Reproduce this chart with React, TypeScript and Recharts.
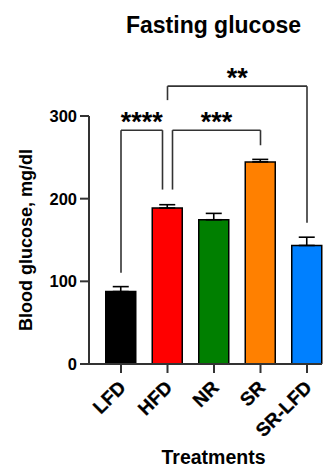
import React from 'react';
import { BarChart, Bar, XAxis, YAxis, ErrorBar, Cell, ReferenceLine, Label } from 'recharts';

const categories = ['LFD', 'HFD', 'NR', 'SR', 'SR-LFD'];
const means = [87.6, 188.7, 174.5, 244.5, 143.4];
const sems = [6, 4, 7.7, 3, 10];
const colors = ['#000000', '#FF0000', '#007F00', '#FF8000', '#0080FF'];
const yTicks = [0, 100, 200, 300];

// significance brackets: from/to categories, bar height y, leg ends, label
const bracketFrom = ['LFD', 'HFD', 'HFD'];
const bracketTo = ['HFD', 'SR', 'SR-LFD'];
const bracketY = [282.8, 282.8, 336.1];
const bracketFromEnd = [110.3, 211, 319.2];
const bracketToEnd = [211, 264.6, 170.9];
const bracketLabels = ['****', '***', '**'];
const bracketDxFrom = [0, 5, 0];
const bracketDxTo = [-5, 0, 0];

const data = categories.map((c, i) => ({ name: c, value: means[i], err: [0, sems[i]] }));

const FONT = '"Liberation Sans", Arial, sans-serif';
const AXIS = '#333333';

const XTick = (props: any) => {
  const { x, y, payload } = props;
  return (
    <g transform={`translate(${x + 1},${y})`}>
      <text
        transform="rotate(-45)"
        textAnchor="end"
        dy="0.36em"
        fontFamily={FONT}
        fontWeight="bold"
        fontSize={19}
        fill="#000"
        stroke="#000"
        strokeWidth={0.3}
      >
        {payload.value}
      </text>
    </g>
  );
};

const seg = (dx1: number, dx2: number, label?: string) => (p: any) => {
  const x1 = p.x1 + dx1;
  const x2 = p.x2 + dx2;
  return (
    <g>
      <line x1={x1} y1={p.y1} x2={x2} y2={p.y2} stroke={AXIS} strokeWidth={1.6} />
      {label ? (
        <text
          x={(x1 + x2) / 2}
          y={p.y1 + 1}
          textAnchor="middle"
          fontFamily={FONT}
          fontWeight="bold"
          fontSize={27}
          fill="#000"
        >
          {label}
        </text>
      ) : null}
    </g>
  );
};

export default function App() {
  return (
    <div style={{ position: 'absolute', left: 0, top: 0, width: 331, height: 468, background: '#fff' }}>
      <div
        style={{
          position: 'absolute',
          left: 0,
          top: 13.5,
          width: 427,
          textAlign: 'center',
          fontFamily: FONT,
          fontWeight: 'bold',
          fontSize: 23,
          lineHeight: '23px',
          color: '#000',
        }}
      >
        Fasting glucose
      </div>
      <BarChart
        width={331}
        height={468}
        data={data}
        margin={{ top: 116, right: 9, bottom: 0, left: 0 }}
        barSize={30}
      >
        <XAxis
          dataKey="name"
          height={104}
          padding={{ left: 8.75, right: -8.25 }}
          axisLine={{ stroke: AXIS, strokeWidth: 2 }}
          tickLine={{ stroke: AXIS, strokeWidth: 2 }}
          tickSize={9}
          tickMargin={11}
          tick={<XTick />}
          interval={0}
        >
          <Label
            value="Treatments"
            position="insideBottom"
            offset={4}
            dx={8}
            style={{ fontFamily: FONT, fontWeight: 'bold', fontSize: 19.5, fill: '#000' }}
          />
        </XAxis>
        <YAxis
          width={89}
          domain={[0, 300]}
          ticks={yTicks}
          allowDataOverflow
          axisLine={{ stroke: AXIS, strokeWidth: 2 }}
          tickLine={{ stroke: AXIS, strokeWidth: 2 }}
          tickSize={9}
          tickMargin={3}
          tick={{ fontFamily: FONT, fontWeight: 'bold', fontSize: 16.5, fill: '#000' }}
        >
          <Label
            value="Blood glucose, mg/dl"
            angle={-90}
            position="center"
            dx={-19}
            style={{ fontFamily: FONT, fontWeight: 'bold', fontSize: 18, fill: '#000', textAnchor: 'middle' }}
          />
        </YAxis>
        <Bar dataKey="value" isAnimationActive={false} stroke="#000" strokeWidth={1.5}>
          {data.map((d, i) => (
            <Cell key={d.name} fill={colors[i]} />
          ))}
          <ErrorBar dataKey="err" width={8} stroke="#000" strokeWidth={1.6} isAnimationActive={false} />
        </Bar>
        {bracketLabels.map((lab, i) => (
          <ReferenceLine
            key={'h' + i}
            ifOverflow="visible"
            segment={[
              { x: bracketFrom[i], y: bracketY[i] },
              { x: bracketTo[i], y: bracketY[i] },
            ]}
            shape={seg(bracketDxFrom[i], bracketDxTo[i], lab)}
          />
        ))}
        {bracketLabels.map((lab, i) => (
          <ReferenceLine
            key={'l' + i}
            ifOverflow="visible"
            segment={[
              { x: bracketFrom[i], y: bracketY[i] },
              { x: bracketFrom[i], y: bracketFromEnd[i] },
            ]}
            shape={seg(bracketDxFrom[i], bracketDxFrom[i])}
          />
        ))}
        {bracketLabels.map((lab, i) => (
          <ReferenceLine
            key={'r' + i}
            ifOverflow="visible"
            segment={[
              { x: bracketTo[i], y: bracketY[i] },
              { x: bracketTo[i], y: bracketToEnd[i] },
            ]}
            shape={seg(bracketDxTo[i], bracketDxTo[i])}
          />
        ))}
      </BarChart>
    </div>
  );
}
